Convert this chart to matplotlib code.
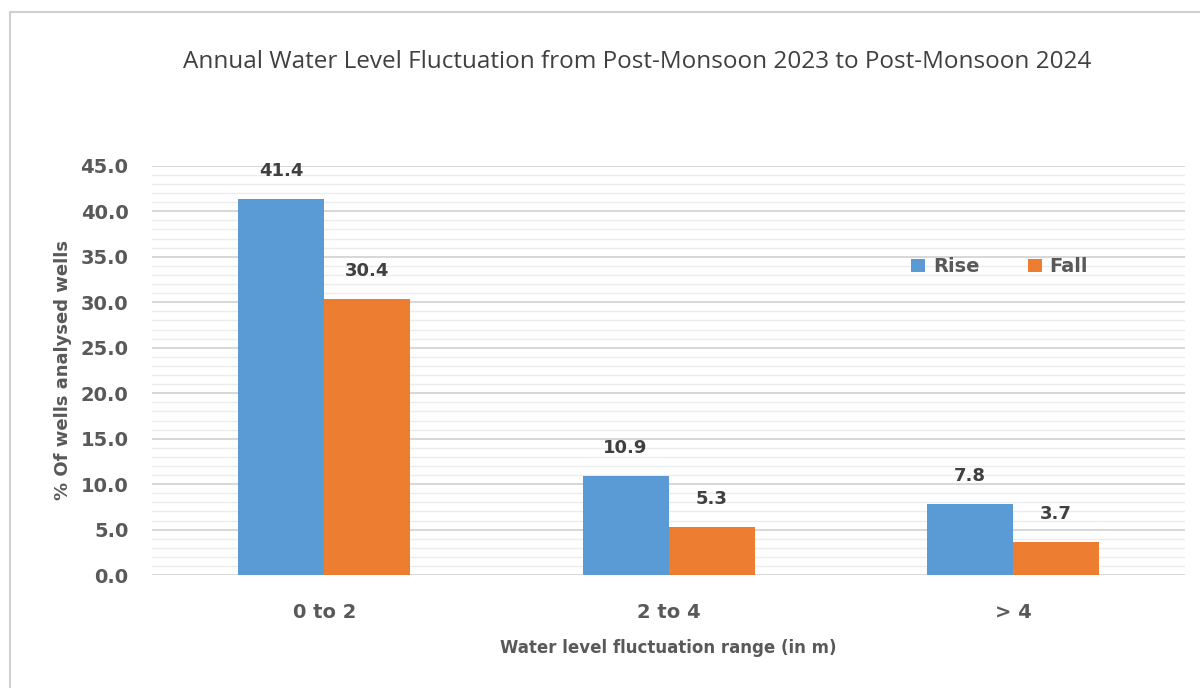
import matplotlib.pyplot as plt
import numpy as np
from matplotlib.patches import Rectangle

categories = ['0 to 2', '2 to 4', '> 4']
rise = [41.4, 10.9, 7.8]
fall = [30.4, 5.3, 3.7]

fig = plt.figure(figsize=(12, 6.88), dpi=100)
ax = fig.add_axes([0.1267, 0.164, 0.861, 0.595])

# outer chart border (left and top visible)
fig.patches.append(Rectangle((0.008, -0.05), 1.1, 1.033, transform=fig.transFigure,
                             fill=False, edgecolor='#d0d0d0', linewidth=1.5))

x = np.arange(len(categories))
w = 0.25
b1 = ax.bar(x - w / 2, rise, w, color='#5B9BD5', label='Rise', zorder=3)
b2 = ax.bar(x + w / 2, fall, w, color='#ED7D31', label='Fall', zorder=3)

for bars, vals in ((b1, rise), (b2, fall)):
    for rect, v in zip(bars, vals):
        ax.annotate(f'{v:.1f}', (rect.get_x() + rect.get_width() / 2, v),
                    xytext=(0, 20), textcoords='offset points', ha='center', va='center',
                    fontsize=13, fontweight='bold', color='#404040')

ax.set_xlim(-0.5, 2.5)
ax.set_ylim(0, 45)
ax.set_yticks(np.arange(0, 46, 5))
ax.set_yticks(np.arange(0, 46, 1), minor=True)
ax.set_yticklabels([f'{t:.1f}' for t in np.arange(0, 46, 5)])
ax.set_xticks(x)
ax.set_xticklabels(categories)
ax.grid(axis='y', which='major', color='#d4d4d4', linewidth=1.3, zorder=0)
ax.grid(axis='y', which='minor', color='#ececec', linewidth=1.0, zorder=0)
for s in ax.spines.values():
    s.set_visible(False)
ax.tick_params(axis='both', which='both', length=0)
ax.tick_params(axis='y', labelsize=14, labelcolor='#595959', pad=17)
ax.tick_params(axis='x', labelsize=14, labelcolor='#595959', pad=20)
for lbl in ax.get_xticklabels() + ax.get_yticklabels():
    lbl.set_fontweight('bold')

ax.set_ylabel('% Of wells analysed wells', fontsize=13, fontweight='bold', color='#595959', labelpad=6)
ax.set_xlabel('Water level fluctuation range (in m)', fontsize=12, fontweight='bold', color='#595959', labelpad=12)

fig.text(0.531, 0.91, 'Annual Water Level Fluctuation from Post-Monsoon 2023 to Post-Monsoon 2024',
         ha='center', va='center', fontsize=17.5, color='#404040', family='Open Sans')

leg = ax.legend(loc='center', bbox_to_anchor=(0.833, 0.612), bbox_transform=fig.transFigure,
                ncol=2, frameon=False, handlelength=0.7, handleheight=0.7, columnspacing=2.5,
                handletextpad=0.4, prop={'size': 14, 'weight': 'bold'})
for t in leg.get_texts():
    t.set_color('#595959')

fig.savefig('out.png', dpi=100, facecolor='white')
